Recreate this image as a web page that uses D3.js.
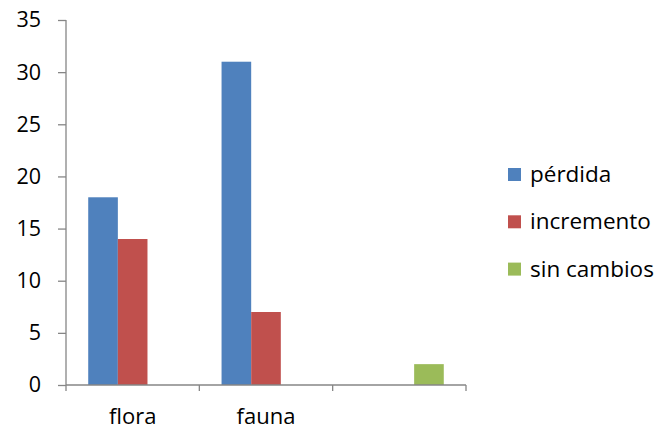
<!DOCTYPE html>
<html><head><meta charset="utf-8">
<script src="https://cdn.jsdelivr.net/npm/d3@7"></script>
<style>body{margin:0;background:#fff}svg{display:block}text{font-family:"Open Sans",sans-serif;fill:#000}</style>
</head><body><svg id="c" width="657" height="430"></svg>
<script>
const categories = ["flora", "fauna", ""];
const seriesNames = ["pérdida", "incremento", "sin cambios"];
const perdida = [18, 31, 0];
const incremento = [14, 7, 0];
const sinCambios = [0, 0, 2];
const yTicks = [0, 5, 10, 15, 20, 25, 30, 35];
const colors = ["#4F81BD", "#C0504D", "#9BBB59"];
const seriesValues = [perdida, incremento, sinCambios];

const svg = d3.select("#c");
const mLeft = 66, mRight = 466, mTop = 20, mBottom = 385;
const x = d3.scaleBand().domain(categories.map((d,i)=>i)).range([mLeft, mRight]);
const y = d3.scaleLinear().domain([0, 35]).range([mBottom, mTop]);
const bw = x.bandwidth();
const barW = bw / 4.5;
const sub = d3.scaleBand().domain(seriesNames).range([0.75*barW, 0.75*barW + 3*barW]);

// bars
seriesNames.forEach((s, si) => {
  svg.append("g").selectAll("rect").data(seriesValues[si]).join("rect")
    .attr("x", (d,i) => x(i) + sub(s))
    .attr("width", sub.bandwidth())
    .attr("y", d => y(d))
    .attr("height", d => y(0) - y(d))
    .attr("fill", colors[si]);
});

const axisColor = "#868686";
// y axis
const ya = svg.append("g").attr("transform", `translate(${mLeft},0)`)
  .call(d3.axisLeft(y).tickValues(yTicks).tickSize(8).tickPadding(17));
ya.select(".domain").attr("stroke", axisColor).attr("stroke-width", 1.3).attr("d", `M0,${mTop}V${mBottom}`);
ya.selectAll(".tick line").attr("stroke", axisColor).attr("stroke-width", 1.3);
ya.selectAll(".tick text").attr("font-size", 21.5).attr("font-family", "Open Sans").attr("fill", "#000");

// x axis
const xa = svg.append("g").attr("transform", `translate(0,${mBottom})`);
xa.append("line").attr("x1", mLeft).attr("x2", mRight).attr("stroke", axisColor).attr("stroke-width", 1.3);
const bounds = d3.range(categories.length + 1).map(i => i < categories.length ? x(i) : x(categories.length-1) + bw);
xa.selectAll("line.t").data(bounds).join("line").attr("class","t")
  .attr("x1", d=>d).attr("x2", d=>d).attr("y1", 0).attr("y2", 6)
  .attr("stroke", axisColor).attr("stroke-width", 1.3);
xa.selectAll("text").data(categories).join("text")
  .attr("x", (d,i) => x(i) + bw/2).attr("y", 39)
  .attr("text-anchor", "middle").attr("font-size", 22).text(d => d);

// legend
const lg = svg.append("g").attr("transform", "translate(508,168)");
seriesNames.forEach((s, i) => {
  const g = lg.append("g").attr("transform", `translate(0,${i*47.3})`);
  g.append("rect").attr("width", 13).attr("height", 13).attr("fill", colors[i]);
  g.append("text").attr("x", 22).attr("y", 14).attr("font-size", 22.5).text(s);
});
</script></body></html>
